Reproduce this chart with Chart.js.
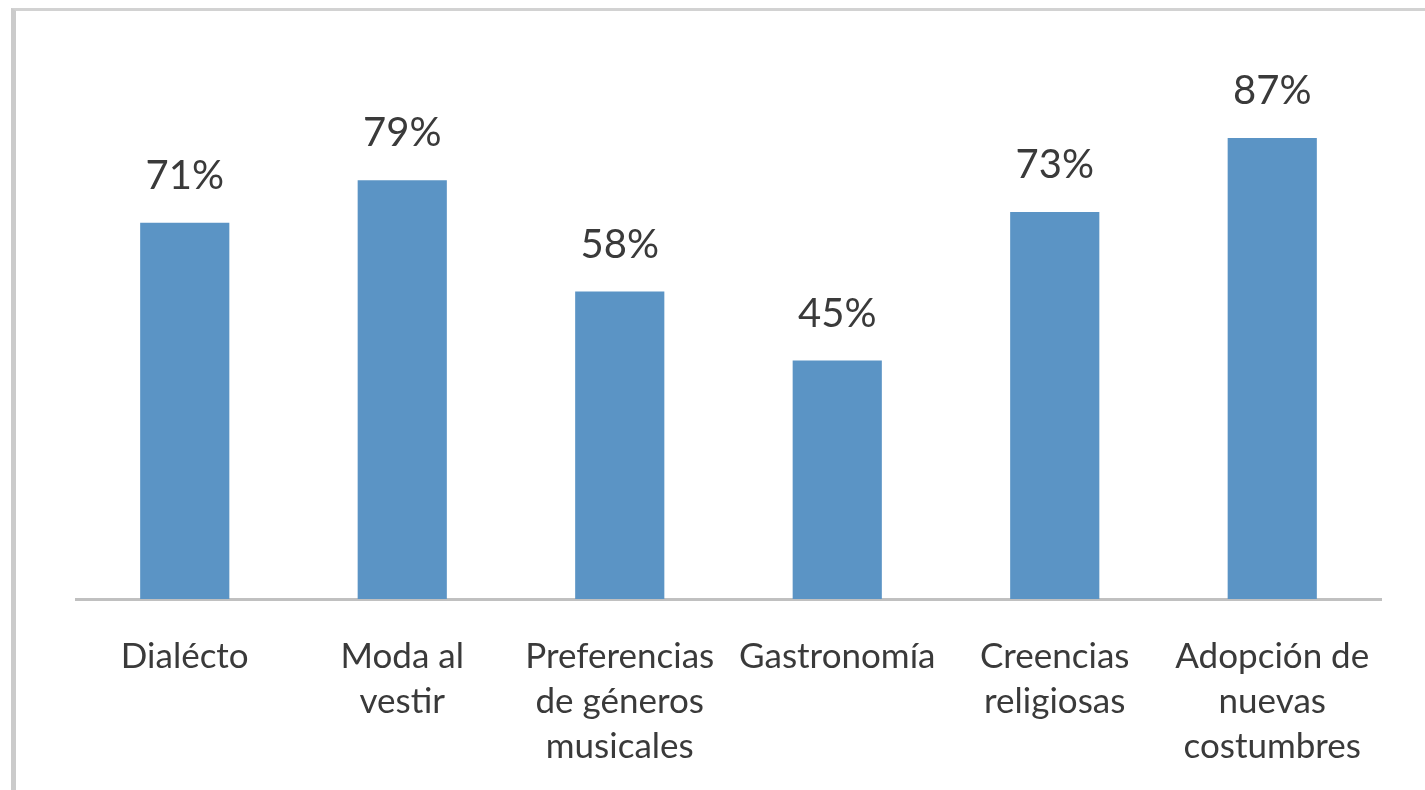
<!DOCTYPE html>
<html>
<head>
<meta charset="utf-8">
<script src="https://cdn.jsdelivr.net/npm/chart.js@4/dist/chart.umd.min.js"></script>
<style>
  body { margin: 0; background: #fff; }
  #frame {
    position: absolute; left: 11px; top: 8px; width: 1414px; height: 779px;
    border-left: 5px solid #cbcbcb; border-top: 3px solid #d2d2d2; border-bottom: 1px solid #ececec;
  }
  #wrap { position: absolute; left: 0; top: 0; width: 1425px; height: 790px; }
</style>
</head>
<body>
<div id="frame"></div>
<div id="wrap"><canvas id="myChart"></canvas></div>
<script>
const categories = [
  "Dialécto",
  ["Moda al", "vestir"],
  ["Preferencias", "de géneros", "musicales"],
  "Gastronomía",
  ["Creencias", "religiosas"],
  ["Adopción de", "nuevas", "costumbres"]
];
const values = [71, 79, 58, 45, 73, 87];

const textColor = "#3a3a3a";

// draws the "71%" style labels above each bar
const barLabels = {
  id: "barLabels",
  afterDatasetsDraw(chart) {
    const ctx = chart.ctx;
    const meta = chart.getDatasetMeta(0);
    ctx.save();
    ctx.font = "40px Lato";
    ctx.fillStyle = textColor;
    ctx.textAlign = "center";
    ctx.textBaseline = "alphabetic";
    meta.data.forEach(function (bar, i) {
      ctx.fillText(values[i] + "%", bar.x, bar.y - 34);
    });
    ctx.restore();
  }
};

var ctx = document.getElementById("myChart").getContext("2d");
var chart = new Chart(ctx, {
  type: "bar",
  data: {
    labels: categories,
    datasets: [
      {
        data: values,
        backgroundColor: "#5b94c5",
        barPercentage: 0.82,
        categoryPercentage: 0.5
      }
    ]
  },
  options: {
    responsive: true,
    maintainAspectRatio: false,
    animation: false,
    layout: { padding: { left: 76, right: 44, top: 69, bottom: 0 } },
    plugins: { legend: { display: false }, tooltip: { enabled: false } },
    scales: {
      x: {
        grid: { display: false },
        border: { color: "#c0c0c0", width: 3 },
        ticks: {
          color: textColor,
          font: { family: "Lato", size: 35, lineHeight: 1.29 },
          maxRotation: 0,
          autoSkip: false,
          padding: 27
        },
        afterFit: function (scale) { scale.height = 191; }
      },
      y: { display: false, min: 0, max: 100 }
    }
  },
  plugins: [barLabels]
});
</script>
</body>
</html>
